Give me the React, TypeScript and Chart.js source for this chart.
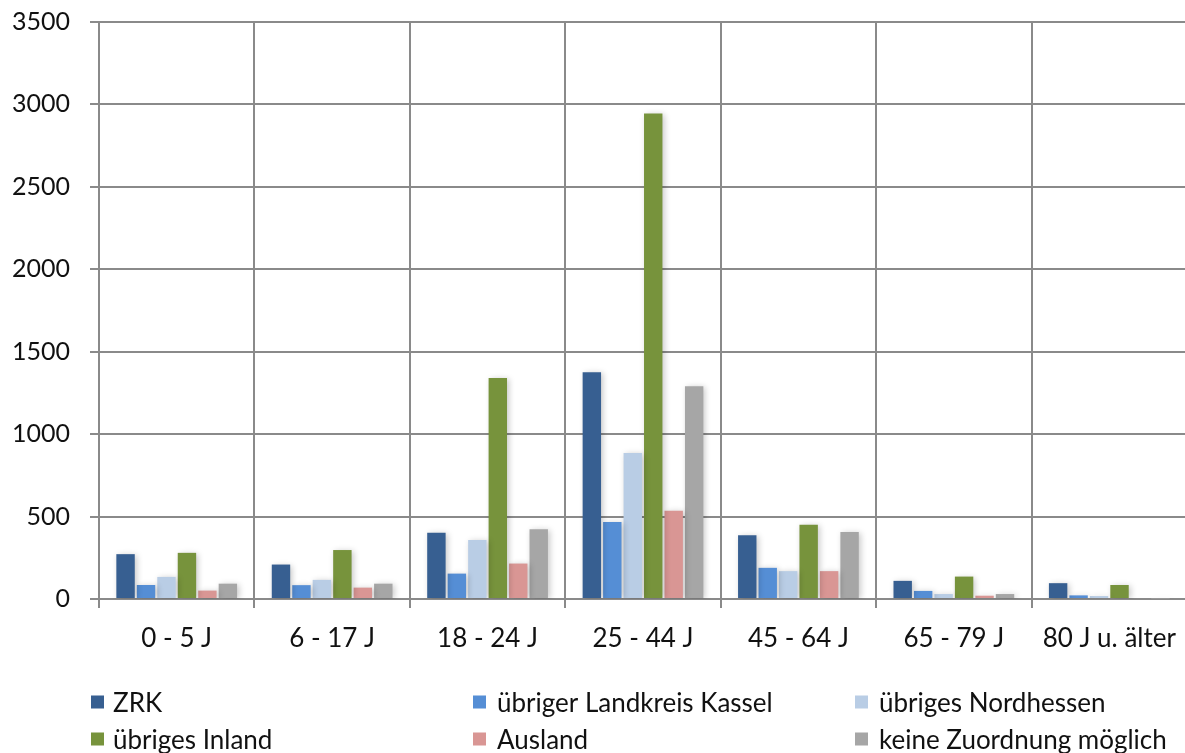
import React, { useEffect, useRef } from 'react';
import { Chart, registerables } from 'chart.js';

Chart.register(...registerables);

const categories = ['0 - 5 J', '6 - 17 J', '18 - 24 J', '25 - 44 J', '45 - 64 J', '65 - 79 J', '80 J u. älter'];
const seriesNames = ['ZRK', 'übriger Landkreis Kassel', 'übriges Nordhessen', 'übriges Inland', 'Ausland', 'keine Zuordnung möglich'];
const zrk = [272, 209, 402, 1375, 386, 110, 96];
const uebrigerLandkreis = [85, 84, 154, 467, 189, 49, 22];
const uebrigesNordhessen = [134, 116, 358, 885, 169, 30, 18];
const uebrigesInland = [280, 297, 1340, 2945, 451, 136, 85];
const ausland = [51, 69, 215, 535, 169, 20, 0];
const keineZuordnung = [93, 93, 423, 1290, 407, 30, 3];
const seriesValues = [zrk, uebrigerLandkreis, uebrigesNordhessen, uebrigesInland, ausland, keineZuordnung];
const seriesColors = ['#375F91', '#558ED5', '#B9CDE5', '#77933C', '#D99694', '#A6A6A6'];
const yTicks = [0, 500, 1000, 1500, 2000, 2500, 3000, 3500];

const FONT = 'Lato, "Open Sans", sans-serif';
const GRID = '#8a8a8a';
const TEXT = '#111111';

const shadowPlugin = {
  id: 'barShadow',
  beforeDatasetsDraw(chart: any) {
    const ctx = chart.ctx;
    ctx.save();
    ctx.shadowColor = 'rgba(0,0,0,0.22)';
    ctx.shadowBlur = 6;
    ctx.shadowOffsetX = 2;
    ctx.shadowOffsetY = 1;
  },
  afterDatasetsDraw(chart: any) {
    chart.ctx.restore();
  },
};

const gridLegendPlugin = {
  id: 'gridLegend',
  afterDraw(chart: any) {
    const ctx = chart.ctx;
    const cols = [
      { sq: 91, tx: 113 },
      { sq: 473, tx: 497 },
      { sq: 855, tx: 879 },
    ];
    const rows = [702, 739];
    const size = 13;
    ctx.save();
    ctx.font = `26px ${FONT}`;
    ctx.textBaseline = 'middle';
    ctx.textAlign = 'left';
    chart.data.datasets.forEach((ds: any, i: number) => {
      const c = cols[i % 3];
      const y = rows[Math.floor(i / 3)];
      ctx.fillStyle = ds.backgroundColor;
      ctx.fillRect(c.sq, y - size / 2, size, size);
      ctx.fillStyle = TEXT;
      ctx.fillText(ds.label, c.tx, y + 2);
    });
    ctx.restore();
  },
};

export default function App() {
  const ref = useRef<HTMLCanvasElement | null>(null);

  useEffect(() => {
    if (!ref.current) return;
    const chart = new Chart(ref.current, {
      type: 'bar',
      data: {
        labels: categories,
        datasets: seriesNames.map((name, i) => ({
          label: name,
          data: seriesValues[i],
          backgroundColor: seriesColors[i],
          borderWidth: 0,
          barPercentage: 0.9,
          categoryPercentage: 0.79,
        })),
      },
      options: {
        responsive: false,
        animation: false,
        devicePixelRatio: 1,
        layout: { padding: { top: 22, right: 5, bottom: 84, left: 0 } },
        plugins: {
          legend: { display: false },
          tooltip: { enabled: false },
        },
        scales: {
          x: {
            grid: { color: GRID, lineWidth: 2, tickLength: 9, offset: true, drawOnChartArea: true },
            border: { color: GRID, width: 2 },
            ticks: { color: TEXT, font: { family: FONT, size: 26 }, padding: 15, maxRotation: 0 },
            afterFit: (s: any) => { s.height = 70; },
          },
          y: {
            min: 0,
            max: 3500,
            afterBuildTicks: (s: any) => { s.ticks = yTicks.map((v) => ({ value: v })); },
            grid: { color: GRID, lineWidth: 2, tickLength: 9 },
            border: { color: GRID, width: 2 },
            ticks: { color: TEXT, font: { family: FONT, size: 25 }, padding: 20, callback: (v: any) => String(v) },
            afterFit: (s: any) => { s.width = 99; s.paddingTop = 0; s.paddingBottom = 0; },
          },
        },
      },
      plugins: [shadowPlugin, gridLegendPlugin],
    });
    return () => chart.destroy();
  }, []);

  return (
    <div style={{ position: 'absolute', left: 0, top: 0, width: 1185, height: 753, overflow: 'hidden', background: '#fff' }}>
      <canvas ref={ref} width={1192} height={753} style={{ display: 'block' }} />
    </div>
  );
}
